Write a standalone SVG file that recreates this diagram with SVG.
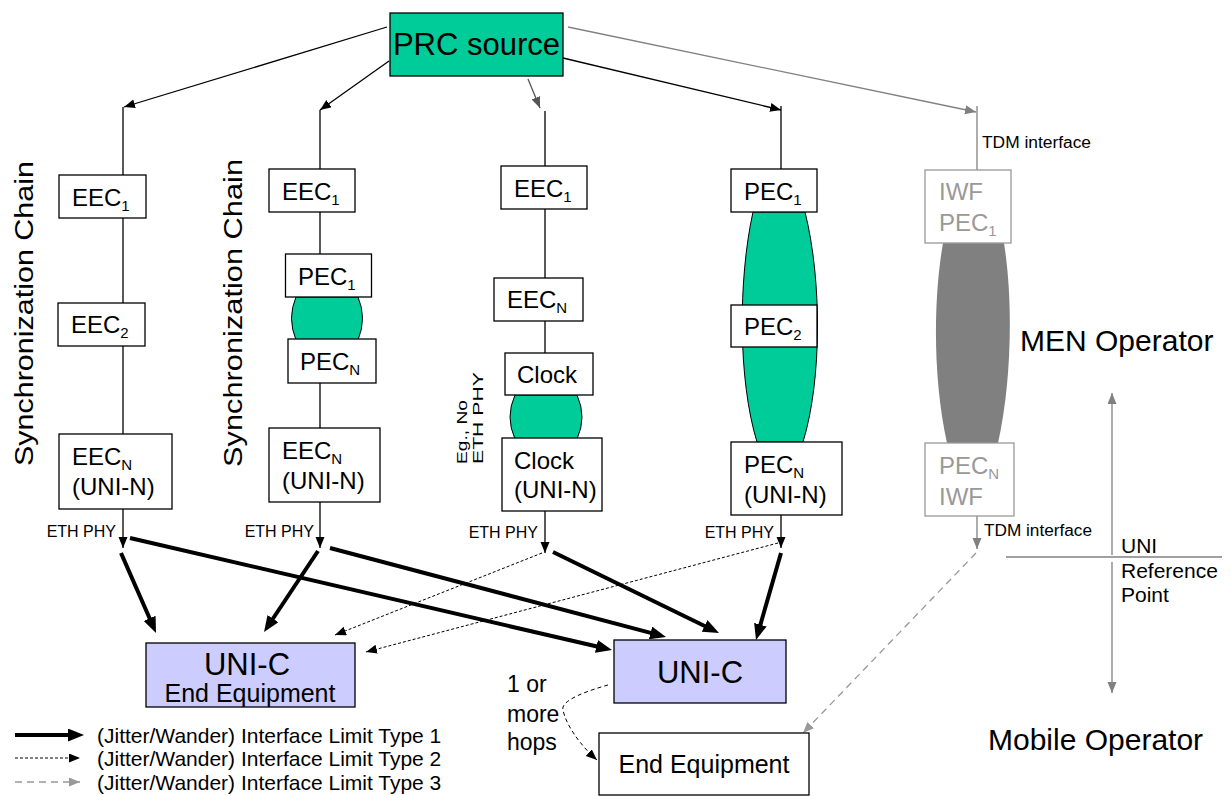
<svg xmlns="http://www.w3.org/2000/svg" width="1231" height="796" viewBox="0 0 1231 796">
<defs>
<style>
.t{font-family:"Liberation Sans",Arial,Helvetica,sans-serif;font-size:24px;fill:#000}
.g{fill:#999}
.s{font-size:15px}
.sm{font-size:16px}
.lg{font-size:21px}
.box{fill:#fff;stroke:#000;stroke-width:1.3}
.gbox{fill:#fff;stroke:#999;stroke-width:1.3}
.ln{stroke:#000;stroke-width:1.3;fill:none}
.gln{stroke:#808080;stroke-width:1.3;fill:none}
.dln{stroke:#555;stroke-width:1.3;fill:none}
.thick{stroke:#000;stroke-width:4;fill:none}
.dot{stroke:#000;stroke-width:1;stroke-dasharray:3 2;fill:none}
.dash{stroke:#999;stroke-width:1.3;stroke-dasharray:7 5;fill:none}
.cdash{stroke:#000;stroke-width:1;stroke-dasharray:4 3;fill:none}
.lens{fill:#00CC99;stroke:#000;stroke-width:1}
</style>
<marker id="ah" markerUnits="userSpaceOnUse" markerWidth="12" markerHeight="10" refX="11" refY="4.5" orient="auto"><path d="M0,0 L11,4.5 L0,9 z" fill="#000"/></marker>
<marker id="ahg" markerUnits="userSpaceOnUse" markerWidth="12" markerHeight="10" refX="11" refY="4.5" orient="auto"><path d="M0,0 L11,4.5 L0,9 z" fill="#808080"/></marker>
<marker id="ahd" markerUnits="userSpaceOnUse" markerWidth="12" markerHeight="10" refX="11" refY="4.5" orient="auto"><path d="M0,0 L11,4.5 L0,9 z" fill="#555"/></marker>
<marker id="ahl" markerUnits="userSpaceOnUse" markerWidth="12" markerHeight="10" refX="11" refY="4.5" orient="auto"><path d="M0,0 L11,4.5 L0,9 z" fill="#999"/></marker>
<marker id="aht" markerUnits="userSpaceOnUse" markerWidth="17" markerHeight="13" refX="4" refY="6.5" orient="auto"><path d="M0,0 L16,6.5 L0,13 z" fill="#000"/></marker>
</defs>
<rect width="1231" height="796" fill="#fff"/>

<!-- lenses (behind boxes) -->
<g id="lenses">
<path class="lens" d="M296,297 Q287,318 296,340 L358,340 Q367,318 358,297 Z"/>
<path class="lens" d="M515,395 Q505,417 515,439 L577,439 Q587,417 577,395 Z"/>
<path class="lens" d="M753,212 C738,280 738,380 757,442 L803,442 C822,380 822,280 805,212 Z"/>
<path fill="#808080" d="M943,243 C933,300 933,380 947,443 L998,443 C1012,380 1013,300 1004,243 Z"/>
</g>

<g id="connectors">
<!-- from PRC -->
<line class="ln" x1="387" y1="27" x2="124" y2="107" marker-end="url(#ah)"/>
<line class="ln" x1="389" y1="61" x2="320" y2="110" marker-end="url(#ah)"/>
<line class="dln" x1="528" y1="79" x2="540" y2="108" marker-end="url(#ahd)"/>
<line class="ln" x1="563" y1="58" x2="781" y2="110" marker-end="url(#ah)"/>
<line class="gln" x1="568" y1="27" x2="976" y2="112" marker-end="url(#ahg)"/>
<!-- chain 1 -->
<line class="ln" x1="123" y1="107" x2="123" y2="175"/>
<line class="ln" x1="123" y1="218" x2="123" y2="303"/>
<line class="ln" x1="123" y1="346" x2="123" y2="434"/>
<line class="ln" x1="123" y1="509" x2="123" y2="548" marker-end="url(#ah)"/>
<!-- chain 2 -->
<line class="ln" x1="320" y1="110" x2="320" y2="169"/>
<line class="ln" x1="320" y1="212" x2="320" y2="254"/>
<line class="ln" x1="320" y1="383" x2="320" y2="428"/>
<line class="ln" x1="320" y1="502" x2="320" y2="548" marker-end="url(#ah)"/>
<!-- chain 3 -->
<line class="ln" x1="545" y1="111" x2="545" y2="166"/>
<line class="ln" x1="545" y1="209" x2="545" y2="278"/>
<line class="ln" x1="545" y1="321" x2="545" y2="353"/>
<line class="ln" x1="545" y1="511" x2="545" y2="553" marker-end="url(#ah)"/>
<!-- chain 4 -->
<line class="ln" x1="781" y1="106" x2="781" y2="169"/>
<line class="ln" x1="781" y1="515" x2="781" y2="548" marker-end="url(#ah)"/>
<!-- chain 5 -->
<line class="gln" x1="977" y1="106" x2="977" y2="170"/>
<line class="gln" x1="977" y1="516" x2="977" y2="549" marker-end="url(#ahg)"/>
<!-- thick type 1 -->
<line class="thick" x1="121" y1="553" x2="151.2" y2="622" marker-end="url(#aht)"/>
<line class="thick" x1="130" y1="538" x2="600.3" y2="647.3" marker-end="url(#aht)"/>
<line class="thick" x1="318" y1="551" x2="270.7" y2="622" marker-end="url(#aht)"/>
<line class="thick" x1="330" y1="548" x2="654.4" y2="633.9" marker-end="url(#aht)"/>
<line class="thick" x1="553" y1="552" x2="708.2" y2="627.7" marker-end="url(#aht)"/>
<line class="thick" x1="781" y1="553" x2="759.3" y2="628.5" marker-end="url(#aht)"/>
<!-- dotted type 2 -->
<line class="dot" x1="542" y1="553" x2="335" y2="635" marker-end="url(#ah)"/>
<line class="dot" x1="778" y1="543" x2="366" y2="652" marker-end="url(#ah)"/>
<path class="cdash" d="M608,685 C590,690 560,700 563,710 C566,725 580,745 597,760" marker-end="url(#ah)"/>
<!-- dashed type 3 -->
<line class="dash" x1="976" y1="553" x2="803" y2="733" marker-end="url(#ahl)"/>
<!-- UNI reference -->
<line class="gln" x1="1112" y1="555" x2="1112" y2="393" marker-end="url(#ahg)"/>
<line class="gln" x1="1112" y1="562" x2="1112" y2="693" marker-end="url(#ahg)"/>
<line class="gln" x1="1006" y1="557" x2="1222" y2="557"/>
</g>

<g id="prc">
<rect x="390" y="13" width="173" height="63" fill="#00CC99" stroke="#000" stroke-width="1.3"/>
<text class="t" x="476.5" y="55" text-anchor="middle" style="font-size:31px">PRC source</text>
</g>

<g id="labels-sync">
<text class="t" transform="translate(33,466) rotate(-90)" style="font-size:26px" textLength="305" lengthAdjust="spacingAndGlyphs">Synchronization Chain</text>
<text class="t" transform="translate(242,467) rotate(-90)" style="font-size:26px" textLength="308" lengthAdjust="spacingAndGlyphs">Synchronization Chain</text>
<text class="t" transform="translate(467,464) rotate(-90)" style="font-size:15px" textLength="64" lengthAdjust="spacingAndGlyphs">Eg., No</text>
<text class="t" transform="translate(483,464) rotate(-90)" style="font-size:15px" textLength="92" lengthAdjust="spacingAndGlyphs">ETH PHY</text>
</g>

<g id="c1-eec1"><rect class="box" x="59" y="175" width="87" height="43"/><text class="t" x="72" y="206">EEC<tspan class="s" dy="5">1</tspan></text></g>
<g id="c1-eec2"><rect class="box" x="58" y="303" width="87" height="43"/><text class="t" x="71" y="333">EEC<tspan class="s" dy="5">2</tspan></text></g>
<g id="c1-eecn"><rect class="box" x="59" y="434" width="113" height="75"/><text class="t" x="72" y="465">EEC<tspan class="s" dy="5">N</tspan></text><text class="t" x="72" y="495">(UNI-N)</text></g>

<g id="c2-eec1"><rect class="box" x="269" y="169" width="86" height="43"/><text class="t" x="282" y="200">EEC<tspan class="s" dy="5">1</tspan></text></g>
<g id="c2-pec1"><rect class="box" x="285.5" y="254" width="86" height="43"/><text class="t" x="298" y="285">PEC<tspan class="s" dy="5">1</tspan></text></g>
<g id="c2-pecn"><rect class="box" x="288" y="339" width="88" height="44"/><text class="t" x="300" y="370">PEC<tspan class="s" dy="5">N</tspan></text></g>
<g id="c2-eecn"><rect class="box" x="269" y="428" width="111" height="74"/><text class="t" x="282" y="459">EEC<tspan class="s" dy="5">N</tspan></text><text class="t" x="282" y="489">(UNI-N)</text></g>

<g id="c3-eec1"><rect class="box" x="501" y="166" width="86" height="43"/><text class="t" x="514" y="197">EEC<tspan class="s" dy="5">1</tspan></text></g>
<g id="c3-eecn"><rect class="box" x="494" y="278" width="89" height="43"/><text class="t" x="507" y="308">EEC<tspan class="s" dy="5">N</tspan></text></g>
<g id="c3-clock"><rect class="box" x="505" y="353" width="88" height="42"/><text class="t" x="517" y="383">Clock</text></g>
<g id="c3-clockn"><rect class="box" x="502" y="438" width="100" height="73"/><text class="t" x="514" y="469">Clock</text><text class="t" x="514" y="498">(UNI-N)</text></g>

<g id="c4-pec1"><rect class="box" x="731" y="169" width="86" height="43"/><text class="t" x="744" y="200">PEC<tspan class="s" dy="5">1</tspan></text></g>
<g id="c4-pec2"><rect class="box" x="731" y="305" width="86" height="42"/><text class="t" x="744" y="335">PEC<tspan class="s" dy="5">2</tspan></text></g>
<g id="c4-pecn"><rect class="box" x="731" y="442" width="111" height="73"/><text class="t" x="744" y="473">PEC<tspan class="s" dy="5">N</tspan></text><text class="t" x="744" y="503">(UNI-N)</text></g>

<g id="c5-iwf1"><rect class="gbox" x="925" y="170" width="86" height="73"/><text class="t g" x="939" y="200">IWF</text><text class="t g" x="939" y="231">PEC<tspan class="s" dy="5">1</tspan></text></g>
<g id="c5-iwfn"><rect class="gbox" x="925" y="443" width="89" height="73"/><text class="t g" x="939" y="474">PEC<tspan class="s" dy="5">N</tspan></text><text class="t g" x="939" y="505">IWF</text></g>

<g id="small-labels">
<text class="t sm" x="116" y="537" text-anchor="end">ETH PHY</text>
<text class="t sm" x="314" y="537" text-anchor="end">ETH PHY</text>
<text class="t sm" x="538" y="538" text-anchor="end">ETH PHY</text>
<text class="t sm" x="774" y="538" text-anchor="end">ETH PHY</text>
<text class="t sm" x="982" y="148" textLength="109" lengthAdjust="spacingAndGlyphs">TDM interface</text>
<text class="t sm" x="984" y="536" textLength="108" lengthAdjust="spacingAndGlyphs">TDM interface</text>
</g>

<g id="unic-left"><rect x="146" y="643" width="209" height="64" fill="#CCCCFF" stroke="#000" stroke-width="1.3"/><text class="t" x="247" y="675" text-anchor="middle" style="font-size:31px">UNI-C</text><text class="t" x="250" y="702" text-anchor="middle" style="font-size:25px">End Equipment</text></g>
<g id="unic-right"><rect x="614" y="640" width="172" height="63" fill="#CCCCFF" stroke="#000" stroke-width="1.3"/><text class="t" x="700" y="683" text-anchor="middle" style="font-size:31px">UNI-C</text></g>
<g id="end-equipment"><rect class="box" x="599" y="733" width="210" height="62"/><text class="t" x="704" y="773" text-anchor="middle" style="font-size:25px">End Equipment</text></g>

<g id="hops"><text class="t" style="font-size:23px"><tspan x="507" y="692">1 or</tspan><tspan x="507" y="722">more</tspan><tspan x="507" y="750">hops</tspan></text></g>

<g id="operators">
<text class="t" x="1020" y="351" style="font-size:30px">MEN Operator</text>
<text class="t" x="988" y="750" style="font-size:30px">Mobile Operator</text>
<text class="t" style="font-size:21px"><tspan x="1121" y="553">UNI</tspan><tspan x="1121" y="578">Reference</tspan><tspan x="1121" y="602">Point</tspan></text>
</g>

<g id="legend">
<line class="thick" x1="15" y1="735" x2="72" y2="735" marker-end="url(#aht)"/>
<line class="dot" x1="15" y1="758" x2="80" y2="758" marker-end="url(#ah)"/>
<line class="dash" x1="15" y1="782" x2="80" y2="782" marker-end="url(#ahl)"/>
<text class="t lg" x="97" y="743">(Jitter/Wander) Interface Limit Type 1</text>
<text class="t lg" x="97" y="766">(Jitter/Wander) Interface Limit Type 2</text>
<text class="t lg" x="97" y="790">(Jitter/Wander) Interface Limit Type 3</text>
</g>
</svg>
